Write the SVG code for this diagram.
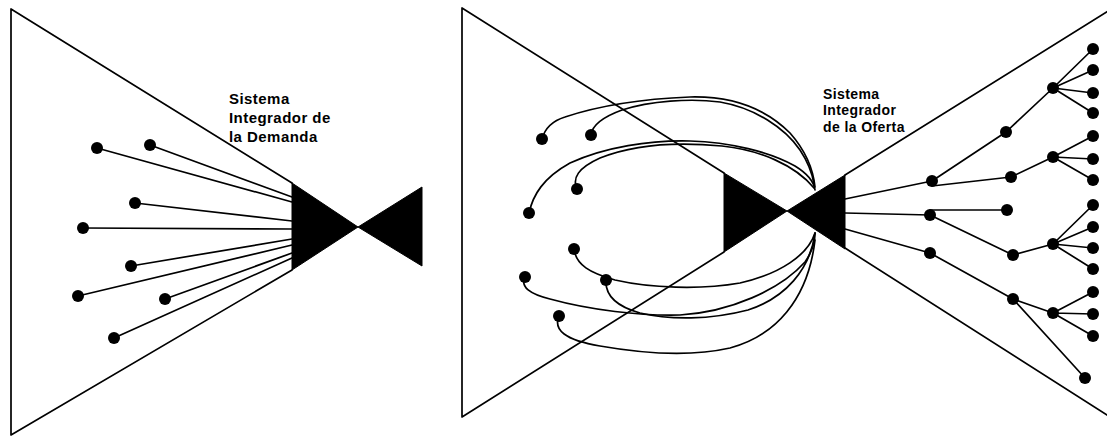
<svg xmlns="http://www.w3.org/2000/svg" width="1107" height="445" viewBox="0 0 1107 445">
<style>
.ln{stroke:#000;stroke-width:1.7;fill:none;stroke-linejoin:round;stroke-linecap:round}
.dot{fill:#000}
.solid{fill:#000;stroke:#000;stroke-width:1}
.lbl{font-family:"Liberation Sans",Arial,sans-serif;font-weight:bold;fill:#000}
</style>
<rect width="1107" height="445" fill="#fff"/>
<g id="frames">
  <path class="ln" d="M292,183 L11,9 L11,435 L292,270"/>
  <path class="ln" d="M724,173 L462,8 L462,417 L724,252"/>
  <path class="ln" d="M845,175 L1110,10 M845,248 L1110,417"/>
</g>
<g id="bowtie-demanda">
  <polygon class="solid" points="292,183 292,270 358,227"/>
  <polygon class="solid" points="358,227 422,187 422,266"/>
</g>
<g id="bowtie-oferta">
  <polygon class="solid" points="724,173 724,252 787,211"/>
  <polygon class="solid" points="787,211 845,175 845,249"/>
</g>
<g id="connectors">
  <path class="ln" d="M97,148 L292,202 M150,145 L292,197 M135,203 L292,221 M83,228 L292,229 M131,266 L292,239 M78,296 L292,245 M165,299 L292,253 M114,338 L292,258"/>
  <path class="ln" d="M542,139 C545,128 552,121 565,117 C595,107 640,99 690,97 C730,96 765,108 790,133 C805,150 813,168 815,187"/>
  <path class="ln" d="M591,135 C592,126 600,118 622,110 C650,101 690,98 720,102 C755,108 785,128 800,150 C808,162 812,172 814,184"/>
  <path class="ln" d="M529,213 C533,195 543,178 570,163 C605,147 650,140 690,141 C730,142 770,152 795,166 C808,174 814,182 815,190"/>
  <path class="ln" d="M577,189 C572,178 578,168 600,158 C630,146 670,141 722,146 C760,150 795,165 814,188"/>
  <path class="ln" d="M574,249 C576,265 590,273 615,280 C650,288 700,290 740,283 C780,274 808,255 815,233"/>
  <path class="ln" d="M525,277 C520,287 530,294 550,299 C590,310 640,316 680,315 C730,312 780,290 805,262 C812,252 815,243 815,233"/>
  <path class="ln" d="M606,280 C605,295 615,306 640,313 C670,320 710,320 748,310 C785,298 810,270 815,233"/>
  <path class="ln" d="M559,316 C553,330 565,340 600,346 C640,353 690,357 730,348 C775,336 808,300 815,240"/>
  <path class="ln" d="M845,199 L932,181 M845,213 L930,215 M845,229 L930,253 M932,181 L1006,132 M932,186 L1011,177 M1006,132 L1053,88 M1053,88 L1093,49 M1053,88 L1093,70 M1053,88 L1093,93 M1053,88 L1093,113 M1011,177 L1053,157 M1053,157 L1093,136 M1053,157 L1093,159 M1053,157 L1093,180 M930,210 L1007,210 M930,215 L1013,255 M1013,255 L1053,244 M1053,244 L1093,205 M1053,244 L1093,227 M1053,244 L1093,248 M1053,244 L1093,269 M930,253 L1013,299 M1013,299 L1053,313 M1013,299 L1085,378 M1053,313 L1093,292 M1053,313 L1093,314 M1053,313 L1093,336"/>
</g>
<g id="nodes-demanda">
  <circle class="dot" cx="97" cy="148" r="6"/>
  <circle class="dot" cx="150" cy="145" r="6"/>
  <circle class="dot" cx="135" cy="203" r="6"/>
  <circle class="dot" cx="83" cy="228" r="6"/>
  <circle class="dot" cx="131" cy="266" r="6"/>
  <circle class="dot" cx="78" cy="296" r="6"/>
  <circle class="dot" cx="165" cy="299" r="6"/>
  <circle class="dot" cx="114" cy="338" r="6"/>
</g>
<g id="nodes-loop">
  <circle class="dot" cx="542" cy="139" r="6"/>
  <circle class="dot" cx="591" cy="135" r="6"/>
  <circle class="dot" cx="529" cy="213" r="6"/>
  <circle class="dot" cx="577" cy="189" r="6"/>
  <circle class="dot" cx="574" cy="249" r="6"/>
  <circle class="dot" cx="525" cy="277" r="6"/>
  <circle class="dot" cx="606" cy="280" r="6"/>
  <circle class="dot" cx="559" cy="316" r="6"/>
</g>
<g id="nodes-tree">
  <circle class="dot" cx="932" cy="181" r="6"/>
  <circle class="dot" cx="930" cy="215" r="6"/>
  <circle class="dot" cx="930" cy="253" r="6"/>
  <circle class="dot" cx="1006" cy="132" r="6"/>
  <circle class="dot" cx="1011" cy="177" r="6"/>
  <circle class="dot" cx="1007" cy="210" r="6"/>
  <circle class="dot" cx="1013" cy="255" r="6"/>
  <circle class="dot" cx="1013" cy="299" r="6"/>
  <circle class="dot" cx="1053" cy="88" r="6"/>
  <circle class="dot" cx="1053" cy="157" r="6"/>
  <circle class="dot" cx="1053" cy="244" r="6"/>
  <circle class="dot" cx="1053" cy="313" r="6"/>
  <circle class="dot" cx="1093" cy="49" r="6"/>
  <circle class="dot" cx="1093" cy="70" r="6"/>
  <circle class="dot" cx="1093" cy="93" r="6"/>
  <circle class="dot" cx="1093" cy="113" r="6"/>
  <circle class="dot" cx="1093" cy="136" r="6"/>
  <circle class="dot" cx="1093" cy="159" r="6"/>
  <circle class="dot" cx="1093" cy="180" r="6"/>
  <circle class="dot" cx="1093" cy="205" r="6"/>
  <circle class="dot" cx="1093" cy="227" r="6"/>
  <circle class="dot" cx="1093" cy="248" r="6"/>
  <circle class="dot" cx="1093" cy="269" r="6"/>
  <circle class="dot" cx="1093" cy="292" r="6"/>
  <circle class="dot" cx="1093" cy="314" r="6"/>
  <circle class="dot" cx="1093" cy="336" r="6"/>
  <circle class="dot" cx="1085" cy="378" r="6"/>
</g>
<g id="label-demanda">
  <text class="lbl" font-size="15" letter-spacing="0.45" x="229" y="103.5">Sistema</text>
  <text class="lbl" font-size="15" letter-spacing="0.45" x="229" y="122.5">Integrador de</text>
  <text class="lbl" font-size="15" letter-spacing="0.45" x="229" y="141.5">la Demanda</text>
</g>
<g id="label-oferta">
  <text class="lbl" font-size="14" letter-spacing="0.4" x="823" y="98.5">Sistema</text>
  <text class="lbl" font-size="14" letter-spacing="0.4" x="823" y="115">Integrador</text>
  <text class="lbl" font-size="14" letter-spacing="0.4" x="823" y="131.7">de la Oferta</text>
</g>
</svg>
